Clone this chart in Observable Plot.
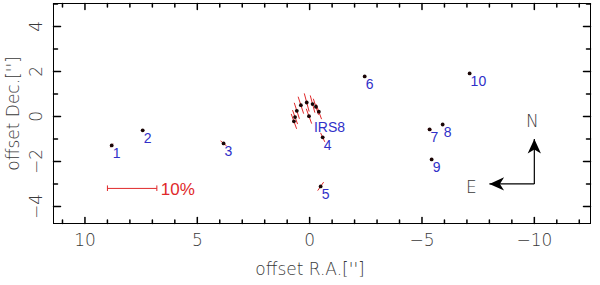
<!DOCTYPE html>
<html><head><meta charset="utf-8">
<script src="https://cdn.jsdelivr.net/npm/d3@7"></script>
<script src="https://cdn.jsdelivr.net/npm/@observablehq/plot@0.6"></script>
<style>body{margin:0;background:#fff}</style>
</head><body><div id="chart"></div>
<script>
// ---- data ----
const starIds = ["1","2","3","4","5","6","7","8","9","10"];
const starX  = [8.81, 7.43, 3.83, -0.58, -0.49, -2.45, -5.34, -5.92, -5.43, -7.12];
const starY  = [-1.29, -0.62, -1.20, -0.93, -3.11, 1.78, -0.58, -0.36, -1.91, 1.91];
const starP  = [0.9, 0.6, 1.6, 2.0, 2.1, 0.2, 0.8, 0.2, 0.6, 0.5];   // polarization %
const starPA = [-35, 20, 50, 25, -35, 0, 80, 0, 60, 10];              // position angle deg (N through E)

const irsX  = [0.70, 0.65, 0.57, 0.39, 0.13, 0.03, -0.13, -0.28, -0.41];
const irsY  = [-0.22, -0.03, 0.25, 0.50, 0.62, 0.01, 0.55, 0.43, 0.21];
const irsP  = [3.2, 3.0, 3.4, 3.6, 3.8, 3.2, 3.6, 3.4, 3.2];
const irsPA = [20, 20, 18, 18, 15, 20, 15, 18, 20];
const irsLabel = "IRS8";
const irsLabelIndex = 5;

const arcsecPerPercent = 0.22;       // 10% = 2.2"
const barStartX = 9.0, barY = -3.2, barPercent = 10, barLabel = "10%";

const compassX = -10, compassY = -3, compassLen = 2;

const xTickValues = d3.range(-12, 12);
const yTickValues = d3.range(-4, 6);
const xLabels = [10, 5, 0, -5, -10];
const yLabels = [4, 2, 0, -2, -4];
const xTitle = "offset R.A.['']";
const yTitle = "offset Dec.['']";

// ---- derived tables ----
const stars = starIds.map((id, i) => ({id, x: starX[i], y: starY[i], p: starP[i], pa: starPA[i]}));
const irs = irsX.map((x, i) => ({x, y: irsY[i], p: irsP[i], pa: irsPA[i]}));
const allPol = [...stars, ...irs];
const seg = d => {
  const L = d.p * arcsecPerPercent / 2, a = d.pa * Math.PI / 180;
  return {x1: d.x + L * Math.sin(a), y1: d.y + L * Math.cos(a), x2: d.x - L * Math.sin(a), y2: d.y - L * Math.cos(a)};
};
const polSegs = allPol.map(seg);
const bar = [{x1: barStartX, x2: barStartX - barPercent * arcsecPerPercent, y: barY}];
const compassLines = [
  {x1: compassX, y1: compassY, x2: compassX, y2: compassY + compassLen, dir: "N", rot: 0},
  {x1: compassX, y1: compassY, x2: compassX + compassLen, y2: compassY, dir: "E", rot: -90}
];
const fmt = d => d < 0 ? "\u2212" + (-d) : String(d);

const tickShape = {draw(ctx, l) { ctx.moveTo(0, 0); ctx.lineTo(0, -l); }};
const headSymbol = {draw(ctx, size) {
  const s = Math.sqrt(size / Math.PI);
  ctx.moveTo(0, 0); ctx.lineTo(-0.95 * s, 2.1 * s); ctx.lineTo(0, 1.5 * s); ctx.lineTo(0.95 * s, 2.1 * s); ctx.closePath();
}};

const font = "'DejaVu Sans', sans-serif";
const labelFont = "'Liberation Sans', Arial, sans-serif";
const txt = "#3a3a3a";
const red = "#e0282a";
const blue = "#3030c8";

const tickMarks = [];
for (const [anchor, rot, ch] of [["bottom", 0, "x"], ["top", 180, "x"]]) {
  tickMarks.push(Plot.vector(xTickValues.filter(v => v % 5 === 0), {[ch]: d => d, frameAnchor: anchor, anchor: "start", rotate: rot, length: 6, shape: tickShape, stroke: "black"}));
  tickMarks.push(Plot.vector(xTickValues.filter(v => v % 5 !== 0), {[ch]: d => d, frameAnchor: anchor, anchor: "start", rotate: rot, length: 3.5, shape: tickShape, stroke: "black"}));
}
for (const [anchor, rot, ch] of [["left", 90, "y"], ["right", -90, "y"]]) {
  tickMarks.push(Plot.vector(yTickValues.filter(v => v % 2 === 0), {[ch]: d => d, frameAnchor: anchor, anchor: "start", rotate: rot, length: 7, shape: tickShape, stroke: "black"}));
  tickMarks.push(Plot.vector(yTickValues.filter(v => v % 2 !== 0), {[ch]: d => d, frameAnchor: anchor, anchor: "start", rotate: rot, length: 4, shape: tickShape, stroke: "black"}));
}

const chart = Plot.plot({
  width: 600, height: 285,
  marginLeft: 53, marginRight: 10, marginTop: 3, marginBottom: 62,
  x: {domain: [11.4, -12.5], axis: null},
  y: {domain: [-4.76, 5.02], axis: null},
  style: {fontFamily: font, background: "#fff"},
  marks: [
    Plot.frame({stroke: "black", strokeWidth: 1}),
    ...tickMarks,
    Plot.text(xLabels, {x: d => d, frameAnchor: "bottom", dy: 17, text: fmt, fontSize: 17, fill: txt, fontWeight: 200, lineAnchor: "middle"}),
    Plot.text(yLabels, {y: d => d, frameAnchor: "left", dx: -17, rotate: -90, text: fmt, fontSize: 17, fill: txt, fontWeight: 200, textAnchor: "middle", lineAnchor: "middle"}),
    Plot.text([xTitle], {frameAnchor: "bottom", dx: -12, dy: 46, text: d => d, fontSize: 17, fill: txt, fontWeight: 200, lineAnchor: "middle"}),
    Plot.text([yTitle], {frameAnchor: "left", dx: -40, rotate: -90, text: d => d, fontSize: 17, fill: txt, fontWeight: 200, textAnchor: "middle", lineAnchor: "middle"}),
    Plot.link(polSegs, {x1: "x1", y1: "y1", x2: "x2", y2: "y2", stroke: red, strokeWidth: 1}),
    Plot.dot(allPol, {x: "x", y: "y", r: 1.9, fill: "#1a0505"}),
    Plot.text(stars, {x: "x", y: "y", text: "id", dx: 1, dy: 8, textAnchor: "start", lineAnchor: "middle", fill: blue, fontSize: 14, fontFamily: labelFont}),
    Plot.text([irs[irsLabelIndex]], {x: "x", y: "y", text: () => irsLabel, dx: 5, dy: 11, textAnchor: "start", lineAnchor: "middle", fill: blue, fontSize: 14, fontFamily: labelFont}),
    Plot.link(bar, {x1: "x1", x2: "x2", y1: "y", y2: "y", stroke: red, strokeWidth: 1, markerStart: "tick", markerEnd: "tick"}),
    Plot.text(bar, {x: "x2", y: "y", text: () => barLabel, dx: 4, dy: 1, textAnchor: "start", lineAnchor: "middle", fill: red, fontSize: 17, fontFamily: labelFont}),
    Plot.link(compassLines, {x1: "x1", y1: "y1", x2: "x2", y2: "y2", stroke: "black", strokeWidth: 1.2}),
    Plot.dot(compassLines, {x: "x2", y: "y2", symbol: headSymbol, r: 7, rotate: "rot", fill: "black", stroke: "none"}),
    Plot.text(compassLines.filter(d => d.dir === "N"), {x: "x2", y: "y2", text: "dir", dx: -2, dy: -17, fontSize: 17, fill: txt, fontWeight: 200, lineAnchor: "middle"}),
    Plot.text(compassLines.filter(d => d.dir === "E"), {x: "x2", y: "y2", text: "dir", dx: -18, dy: 4, fontSize: 17, fill: txt, fontWeight: 200, lineAnchor: "middle"})
  ]
});
document.getElementById("chart").appendChild(chart);
</script>
</body></html>
